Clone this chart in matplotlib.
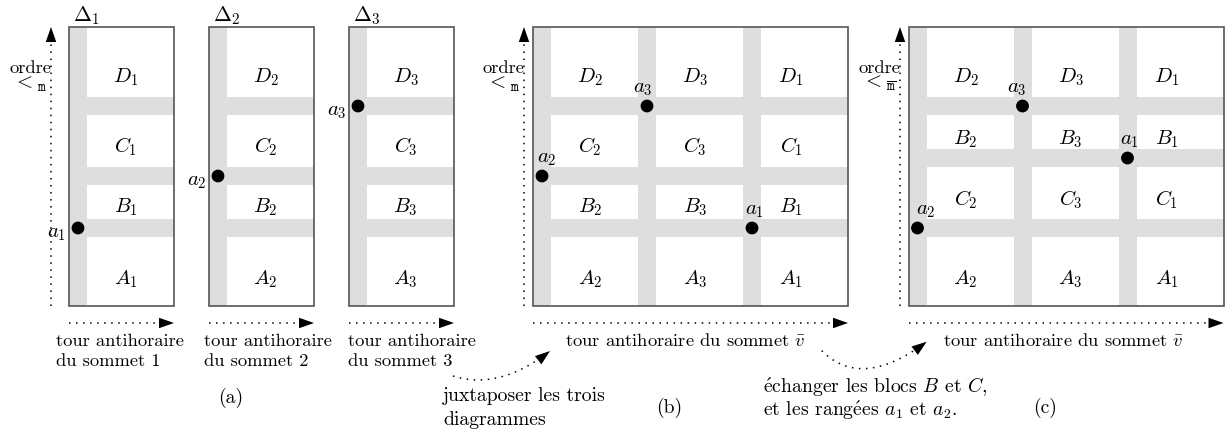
import matplotlib
matplotlib.use('Agg')
import matplotlib.pyplot as plt
from matplotlib.patches import Rectangle, Circle, Polygon
import numpy as np

plt.rcParams['mathtext.fontset'] = 'cm'
plt.rcParams['font.family'] = ['cmr10', 'DejaVu Serif']
plt.rcParams['axes.unicode_minus'] = False
plt.rcParams['axes.formatter.use_mathtext'] = True

# ---------------- content ----------------
BLOCKS = ['A', 'B', 'C', 'D']            # bottom -> top in each diagram
DIAGRAMS = [1, 2, 3]                     # Delta_1, Delta_2, Delta_3
COLUMN_ORDER_B = [2, 3, 1]               # juxtaposed order in (b) and (c)
ROW_ORDER_C = ['A', 'C', 'B', 'D']       # rows after swapping blocks B and C
DOT_STRIP_AB = {1: 0, 2: 1, 3: 2}        # a_i sits on separator strip i
DOT_STRIP_C = {1: 1, 2: 0, 3: 2}         # rows a_1 and a_2 swapped
TEXT_X_LABEL = 'tour antihoraire'
TEXT_SOMMET = ['du sommet 1', 'du sommet 2', 'du sommet 3']
TEXT_VBAR = r'tour antihoraire du sommet $\bar{v}$'
ORDER_LABEL = 'ordre'
ORDER_SYM_AB = r'$<_{\mathtt{m}}$'
ORDER_SYM_C = r'$<_{\overline{\mathtt{m}}}$'
CAPTIONS = ['(a)', '(b)', '(c)']
NOTE_B = ['juxtaposer les trois', 'diagrammes']
NOTE_C = [r'$\mathrm{\acute{e}}$changer les blocs $B$ et $C$,',
          r'et les rang$\mathrm{\acute{e}}$es $a_1$ et $a_2$.']

# ---------------- layout (pixels) ----------------
W, H = 1226, 435
Y_TOP, Y_BOT = 28, 307
STRIP_H = 18
VSTRIP_W = 18
COL_W = 105
STRIPS_AB = [229, 177, 107]
STRIPS_C = [229, 159, 107]
BASE_AB = {'A': 284, 'B': 212.5, 'C': 152.5, 'D': 82.5}
BASE_C = {'A': 284, 'C': 205, 'B': 144, 'D': 82.5}
A_LEFTS = [69, 209, 349]
B_LEFT, C_LEFT = 533, 908.5
GRAY = '#dedede'
EDGE = '#555555'
FS = 13.3      # axis texts
FSN = 14.2     # notes / captions
FSM = 15.0     # math labels
FSD = 15.5     # Delta labels
DOT_R = 5.7
ARROW_Y = 324
HEAD_L, HEAD_W = 15, 10.5
DOTTED = dict(color='black', lw=1.1, ls=(0, (1, 3.6)), dash_capstyle='butt')

fig = plt.figure(figsize=(W / 100, H / 100), dpi=100)
ax = fig.add_axes([0, 0, 1, 1])
ax.set_xlim(0, W)
ax.set_ylim(H, 0)
ax.axis('off')


def head(tip, direction):
    d = np.asarray(direction, float)
    d = d / np.hypot(*d)
    n = np.array([-d[1], d[0]])
    tip = np.asarray(tip, float)
    base = tip - d * HEAD_L
    pts = [tip, base + n * HEAD_W / 2, base - n * HEAD_W / 2]
    ax.add_patch(Polygon(pts, closed=True, color='black', zorder=5, lw=0))


def harrow(x0, x1, y):
    ax.plot([x0, x1 - HEAD_L], [y, y], **DOTTED)
    head((x1, y), (1, 0))


def varrow(x, y0, y1):
    ax.plot([x, x], [y0, y1 + HEAD_L], **DOTTED)
    head((x, y1), (0, -1))


def curved(p0, p1, p2):
    p0, p1, p2 = map(lambda p: np.asarray(p, float), (p0, p1, p2))
    t = np.linspace(0, 1, 200)[:, None]
    pts = (1 - t) ** 2 * p0 + 2 * (1 - t) * t * p1 + t ** 2 * p2
    keep = np.hypot(*(pts - p2).T) > HEAD_L
    ax.plot(pts[keep, 0], pts[keep, 1], **DOTTED)
    head(p2, p2 - p1)


def panel(left, diags, strips, rows, bases, dot_strip, label_dx, dot_mode, dot_dx):
    ncol = len(diags)
    right = left + ncol * COL_W
    for yc in strips:
        ax.add_patch(Rectangle((left, yc - STRIP_H / 2), right - left, STRIP_H,
                               color=GRAY, lw=0, zorder=1))
    for k, d in enumerate(diags):
        cl = left + k * COL_W
        ax.add_patch(Rectangle((cl, Y_TOP), VSTRIP_W, Y_BOT - Y_TOP,
                               color=GRAY, lw=0, zorder=1))
        for blk in rows:
            ax.text(cl + VSTRIP_W + label_dx[k], bases[blk], f'${blk}_{d}$',
                    ha='center', va='baseline', fontsize=FSM, zorder=3)
        dx_, dy_ = cl + VSTRIP_W / 2, strips[dot_strip[d]]
        ax.add_patch(Circle((dx_, dy_), DOT_R, color='black', zorder=4))
        if dot_mode == 'left':
            ax.text(cl - 2.5, dy_ + 5, f'$a_{d}$', ha='right', va='center',
                    fontsize=FSM, zorder=4)
        else:
            ax.text(dx_ + dot_dx[d], dy_ - 8.5, f'$a_{d}$', ha='center',
                    va='bottom', fontsize=FSM, zorder=4)
    ax.add_patch(Rectangle((left, Y_TOP), right - left, Y_BOT - Y_TOP, fill=False,
                           ec=EDGE, lw=1.2, zorder=3))
    return right


# (a)
A_TEXT_X = [56, 204, 348]
for i, d in enumerate(DIAGRAMS):
    r = panel(A_LEFTS[i], [d], STRIPS_AB, BLOCKS, BASE_AB, DOT_STRIP_AB,
              [38.5], 'left', None)
    ax.text(A_LEFTS[i] + 4, 21.5, rf'$\Delta_{d}$', ha='left', va='baseline',
            fontsize=FSD)
    harrow(A_LEFTS[i], r, ARROW_Y)
    ax.text(A_TEXT_X[i], 346, TEXT_X_LABEL, ha='left', va='baseline', fontsize=FS)
    ax.text(A_TEXT_X[i], 366, TEXT_SOMMET[i], ha='left', va='baseline', fontsize=FS)

# (b)
rb = panel(B_LEFT, COLUMN_ORDER_B, STRIPS_AB, BLOCKS, BASE_AB, DOT_STRIP_AB,
           [39, 39, 30], 'above', {1: 2.5, 2: 5, 3: -4})
harrow(B_LEFT, rb, ARROW_Y)
ax.text(685, 346, TEXT_VBAR, ha='center', va='baseline', fontsize=FS)

# (c)
rc = panel(C_LEFT, COLUMN_ORDER_B, STRIPS_C, ROW_ORDER_C, BASE_C, DOT_STRIP_C,
           [39, 39, 30], 'above', {1: 2, 2: 8, 3: -5.5})
harrow(C_LEFT, rc, ARROW_Y)
ax.text(1063, 346, TEXT_VBAR, ha='center', va='baseline', fontsize=FS)

# vertical order arrows
for x, sym in [(51, ORDER_SYM_AB), (524, ORDER_SYM_AB), (900, ORDER_SYM_C)]:
    varrow(x, Y_BOT, Y_TOP)
    ax.text(x, 73, ORDER_LABEL, ha='right', va='baseline', fontsize=FS)
    ax.text(x - 4, 88, sym, ha='right', va='baseline', fontsize=15)

# captions
ax.text(231, 403, CAPTIONS[0], ha='center', va='baseline', fontsize=FSN)
ax.text(669, 413, CAPTIONS[1], ha='center', va='baseline', fontsize=FSN)
ax.text(1045, 413, CAPTIONS[2], ha='center', va='baseline', fontsize=FSN)

# notes
ax.text(443, 401.5, NOTE_B[0], ha='left', va='baseline', fontsize=FSN)
ax.text(443, 425, NOTE_B[1], ha='left', va='baseline', fontsize=FSN)
ax.text(763, 393, NOTE_C[0], ha='left', va='baseline', fontsize=FSN)
ax.text(763, 416, NOTE_C[1], ha='left', va='baseline', fontsize=FSN)

# curved arrows
curved((453, 377), (499, 391.7), (550, 352))
curved((821.7, 351.7), (861.6, 391.6), (926.7, 342.7))

fig.savefig('out.png', dpi=100)
